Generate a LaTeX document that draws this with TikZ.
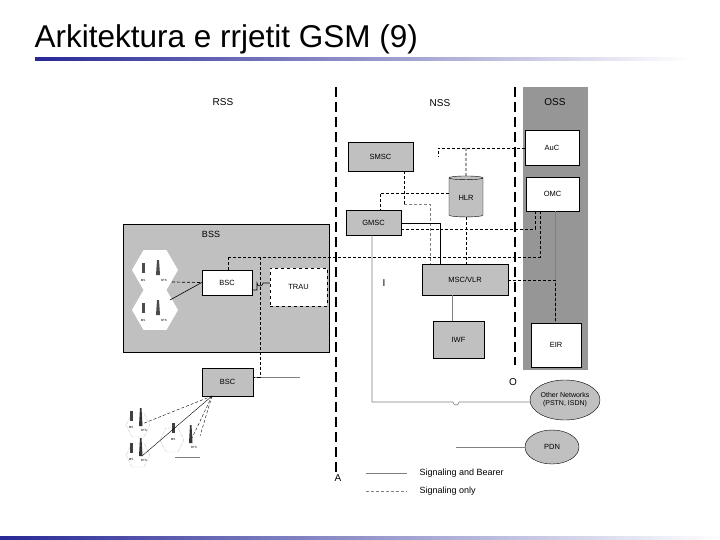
\documentclass[tikz,border=0pt]{standalone}
\usepackage{fontspec}
\setmainfont{Liberation Sans}
\usetikzlibrary{shapes.geometric}
\definecolor{boxg}{RGB}{192,192,192}
\definecolor{ossg}{RGB}{150,150,150}
\definecolor{tblue}{RGB}{40,40,150}
\begin{document}
\begin{tikzpicture}[x=1pt,y=-1pt,
  box/.style={draw,line width=0.5pt,inner sep=0,font=\fontsize{7.5}{8}\selectfont},
  gbox/.style={box,fill=boxg},
  wbox/.style={box,fill=white},
  sig/.style={line width=0.7pt,dash pattern=on 3pt off 2pt},
  bear/.style={line width=0.6pt},
  gbear/.style={line width=0.6pt,gray},
  sep/.style={line width=1.4pt,dash pattern=on 10pt off 5pt},
  lab/.style={font=\fontsize{10}{11}\selectfont},
  tiny/.style={font=\fontsize{3}{3}\selectfont}]
\useasboundingbox (0,0) rectangle (720,540);
\fill[white] (0,0) rectangle (720,540);
\node[anchor=west,font=\fontsize{31.5}{33}\selectfont] (title) at (31,39) {Arkitektura e rrjetit GSM (9)};
\shade[left color=tblue,right color=white] (35,57.5) rectangle (690,60.5);
\shade[left color=tblue,right color=white] (0,536) rectangle (720,540);
% OSS column
\fill[ossg] (523,87) rectangle (588,370);
\draw[sep] (336,87) -- (336,472);
\draw[sep] (515,87) -- (515,365);
\node[lab] (rss) at (223,102) {RSS};
\node[lab] (nss) at (440,103) {NSS};
\node[lab] (oss) at (555,102) {OSS};
% BSS
\node[gbox,minimum width=206pt,minimum height=128pt,anchor=north west] (bss) at (123,224) {};
\node[font=\fontsize{9}{10}\selectfont] (bsst) at (211,234) {BSS};
% hexagons
\foreach \n/\yy in {h1/270,h2/310}{
 \node[regular polygon,regular polygon sides=6,fill=white,minimum size=46pt,inner sep=0] (\n) at (155,\yy) {};
 \fill[gray!60!black] (142,\yy-7) rectangle (145,\yy+3);
 \fill[gray!60!black] (157,\yy-10) -- (159,\yy-10) -- (160,\yy+5) -- (156,\yy+5) -- cycle;
 \node[tiny] at (143,\yy+10) {MS};
 \node[tiny] at (164,\yy+10) {BTS};
}
\node[wbox,minimum width=50pt,minimum height=25pt] (bsc) at (227,282.5) {BSC};
\node[wbox,dashed,minimum width=57pt,minimum height=38pt] (trau) at (298.5,287) {TRAU};
\draw[sig] (172,282) -- (bsc.west);
\draw[bear] (170,300) -- (bsc.west);
\draw[bear] (bsc.east |- 0,290) -- (257,290) -- (257,283) arc[start angle=180,end angle=0,radius=3] -- (trau.west |- 0,283);
% NSS boxes
\node[gbox,minimum width=65pt,minimum height=29pt] (smsc) at (380.5,156.5) {SMSC};
\node[gbox,minimum width=55pt,minimum height=25pt] (gmsc) at (373.5,222.5) {GMSC};
\node[gbox,minimum width=86pt,minimum height=31pt] (msc) at (465,279.5) {MSC/VLR};
\node[gbox,minimum width=51pt,minimum height=37pt] (iwf) at (458.5,339.5) {IWF};
\node[cylinder,shape border rotate=90,draw,fill=boxg,aspect=0.25,minimum width=34pt,minimum height=41pt,inner sep=0,font=\fontsize{7.5}{8}\selectfont] (hlr) at (466,197.5) {HLR};
\node[wbox,minimum width=54pt,minimum height=35pt] (auc) at (552,147.5) {AuC};
\node[wbox,minimum width=53pt,minimum height=34pt] (omc) at (552.5,194) {OMC};
\node[wbox,minimum width=50pt,minimum height=44pt] (eir) at (556,345) {EIR};
% lower RSS
\node[gbox,minimum width=51pt,minimum height=28pt] (bsc2) at (227.5,382) {BSC};
\coordinate (bsc2o) at (300,377);
\draw[gbear] (bsc2.east |- bsc2o) -- (bsc2o);
\foreach \x/\y in {138/425,138/455,172/440}{
 \draw[densely dotted,gray] (\x-12,\y) -- (\x-6,\y-12) -- (\x+6,\y-12) -- (\x+12,\y) -- (\x+6,\y+12) -- (\x-6,\y+12) -- cycle;
}
\foreach \x/\y/\t in {140/420/BTS,140/450/BTS,190/437/BTS}{
 \fill[gray!40!black] (\x,\y-12) -- (\x+1.5,\y-12) -- (\x+2.5,\y+6) -- (\x-1,\y+6) -- cycle;
 \node[tiny] at (\x+4,\y+10) {\t};
}
\foreach \x/\y/\t in {130/418/MS,130/450/MS,172/430/MS}{
 \fill[gray!50!black] (\x,\y-7) rectangle (\x+3,\y+3);
 \node[tiny] at (\x+1,\y+9) {\t};
}
\coordinate (bscb) at (212,396);
\draw[line width=0.4pt,densely dashed] (bscb) -- (142,424);
\draw[line width=0.4pt] (bscb) -- (142,456);
\draw[line width=0.4pt,densely dashed] (bscb) -- (192,438);
\draw[line width=0.4pt,densely dashed] (bscb) -- (200,436);
\draw[gray,line width=0.4pt] (175,457) -- (200,457);
% ellipses
\node[ellipse,draw,fill=boxg,minimum width=70pt,minimum height=40pt,inner sep=0,align=center,font=\fontsize{7}{8}\selectfont] (other) at (565,400) {Other Networks\\(PSTN, ISDN)};
\node[ellipse,draw,fill=boxg,minimum width=54pt,minimum height=34pt,inner sep=0,font=\fontsize{7.5}{8}\selectfont] (pdn) at (552,447) {PDN};
\coordinate (pdno) at (456,447);
\draw[gbear] (pdno) -- (pdn.west);
% signaling lines
\coordinate (aucl) at (438,148);
\draw[sig] (auc.west |- aucl) -- (aucl) -- (438,157);
\draw[sig] (466,148) -- (hlr.north);
\draw[sig] (hlr.west |- 0,193) -- (380,193) -- (gmsc.north -| 380,0);
\draw[sig] (hlr.south) -- (msc.north -| hlr.south);
\draw[sig] (smsc.south -| 404,0) -- (404,204);
\draw[sig,gray] (404,204) -- (430,204) -- (msc.north -| 430,0);
\draw[bear] (gmsc.east |- 0,223) -- (440,223) -- (msc.north -| 440,0);
\draw[sig] (gmsc.east |- 0,229) -- (440,229);
\draw[sig] (440,229) -- (535,229) -- (omc.south -| 535,0);
\draw[sig] (228,257) -- (540,257) -- (omc.south -| 540,0);
\draw[sig] (228,257) -- (bsc.north -| 228,0);
\draw[sig] (260,257) -- (260,377) -- (bsc2.east |- 0,377);
\draw[gbear] (omc.south -| 555,0) -- (eir.north -| 555,0);
\draw[sig] (msc.east |- 0,280) -- (555,280) -- (eir.north -| 555,0);
\draw[gbear] (msc.south -| 452,0) -- (iwf.north -| 452,0);
\draw[gbear] (gmsc.south -| 372,0) -- (372,402) -- (453,402) arc[start angle=180,end angle=0,radius=3] -- (other.west |- 0,402);
% interface letters
\node[lab] (li) at (384,283) {I};
\node[lab] (lo) at (513,382) {O};
\node[lab] (la) at (338,478) {A};
% legend
\coordinate (l1a) at (366,473); \coordinate (l1b) at (407,473);
\coordinate (l2a) at (366,491); \coordinate (l2b) at (407,491);
\draw[gbear] (l1a) -- (l1b);
\draw[sig,line width=0.5pt,gray] (l2a) -- (l2b);
\node[anchor=west,font=\fontsize{9}{10}\selectfont] (leg1) at (416,473) {Signaling and Bearer};
\node[anchor=west,font=\fontsize{9}{10}\selectfont] (leg2) at (416,491) {Signaling only};
\end{tikzpicture}
\end{document}
